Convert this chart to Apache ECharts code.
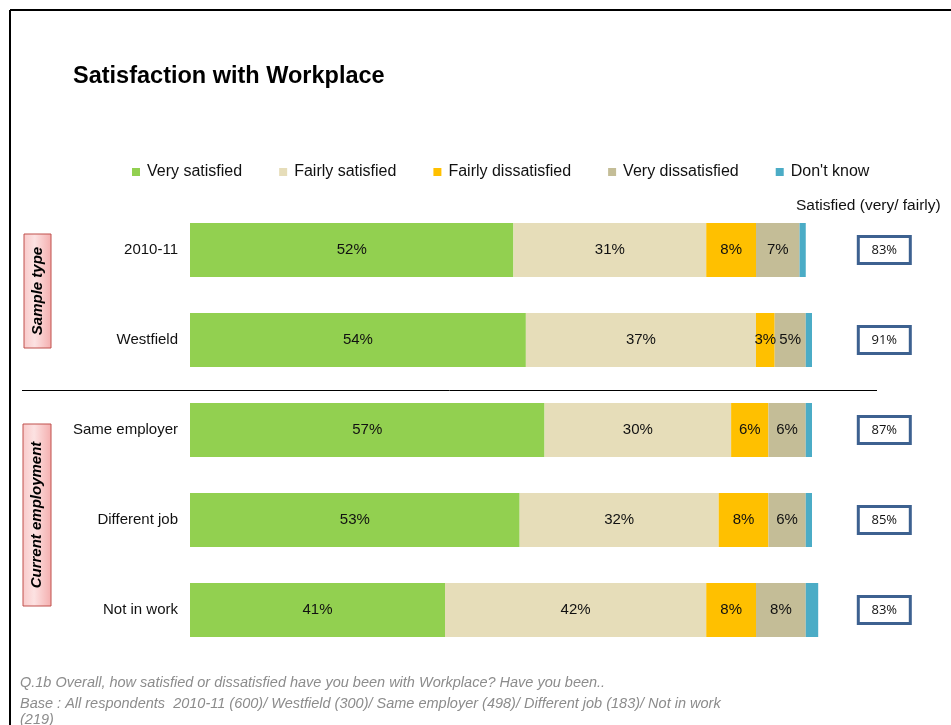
<!DOCTYPE html>
<html>
<head>
<meta charset="utf-8">
<script src="https://cdn.jsdelivr.net/npm/echarts@6/dist/echarts.min.js"></script>
<style>
  html, body { margin: 0; padding: 0; background: #fff; }
  #chart { width: 951px; height: 725px; }
</style>
</head>
<body>
<div id="chart"></div>
<script>
// Survey rows and response shares (%)
const categories = ['2010-11', 'Westfield', 'Same employer', 'Different job', 'Not in work'];
const verySatisfied = [52, 54, 57, 53, 41];
const fairlySatisfied = [31, 37, 30, 32, 42];
const fairlyDissatisfied = [8, 3, 6, 8, 8];
const veryDissatisfied = [7, 5, 6, 6, 8];
const dontKnow = [1, 1, 1, 1, 2];
// Net satisfied (very + fairly) per row
const satisfiedTotals = [83, 91, 87, 85, 83];

const seriesNames = ['Very satisfied', 'Fairly satisfied', 'Fairly dissatisfied', 'Very dissatisfied', "Don't know"];
const seriesValues = [verySatisfied, fairlySatisfied, fairlyDissatisfied, veryDissatisfied, dontKnow];
const seriesColors = ['#92D050', '#E6DDB9', '#FFC000', '#C4BD97', '#4BACC6'];

const FONT = '"Liberation Sans", Arial, sans-serif';
const NOTE_FONT = 'italic 14.5px ' + FONT;

const chart = echarts.init(document.getElementById('chart'), null, { renderer: 'canvas' });

const series = seriesNames.map((name, i) => ({
  name: name,
  type: 'bar',
  stack: 'total',
  barWidth: 54,
  data: seriesValues[i],
  itemStyle: { color: seriesColors[i] },
  label: {
    show: i < 4,
    position: 'inside',
    formatter: '{c}%',
    color: '#111',
    fontSize: 15,
    fontFamily: FONT
  },
  emphasis: { disabled: true }
}));

function groupTag(x, y, w, h, text) {
  return {
    type: 'group',
    children: [
      {
        type: 'rect',
        shape: { x: x, y: y, width: w, height: h },
        style: {
          fill: new echarts.graphic.LinearGradient(0, 0, 1, 0, [
            { offset: 0, color: '#F9C9C9' },
            { offset: 0.4, color: '#FCE2E2' },
            { offset: 1, color: '#F4AEAE' }
          ]),
          stroke: '#C0504D',
          lineWidth: 1
        }
      },
      {
        type: 'text',
        x: x + w / 2,
        y: y + h / 2,
        rotation: Math.PI / 2,
        style: {
          text: text,
          fill: '#000',
          font: 'italic bold 15px ' + FONT,
          align: 'center',
          verticalAlign: 'middle'
        }
      }
    ]
  };
}

const option = {
  backgroundColor: '#fff',
  animation: false,
  title: {
    text: 'Satisfaction with Workplace',
    left: 73,
    top: 65,
    padding: 0,
    textStyle: { fontFamily: FONT, fontSize: 23.5, fontWeight: 'bold', color: '#000' }
  },
  legend: {
    data: seriesNames,
    left: 132,
    top: 164,
    itemWidth: 8,
    itemHeight: 8,
    itemGap: 37,
    icon: 'rect',
    padding: 0,
    textStyle: { fontFamily: FONT, fontSize: 16, color: '#111', padding: [0, 0, 0, 2] },
    selectedMode: false
  },
  grid: { left: 190, top: 205, width: 659.3, height: 450, containLabel: false },
  xAxis: {
    type: 'value',
    min: 0,
    max: 106,
    show: false
  },
  yAxis: [
    {
      type: 'category',
      data: categories,
      inverse: true,
      axisLine: { show: false },
      axisTick: { show: false },
      axisLabel: { margin: 12, fontSize: 15, fontFamily: FONT, color: '#111' }
    },
    {
      type: 'category',
      position: 'right',
      data: satisfiedTotals.map(v => v + '%'),
      inverse: true,
      axisLine: { show: false },
      axisTick: { show: false },
      axisLabel: {
        margin: 35,
        align: 'center',
        width: 49,
        height: 22,
        lineHeight: 22,
        fontSize: 13,
        fontFamily: '"Open Sans", "Noto Sans", sans-serif',
        color: '#111',
        backgroundColor: '#fff',
        borderColor: '#3D6190',
        borderWidth: 3,
        padding: [2, 0, 0, 0]
      }
    }
  ],
  series: series,
  graphic: [
    // Frame lines
    { type: 'line', shape: { x1: 10, y1: 10, x2: 951, y2: 10 }, style: { stroke: '#000', lineWidth: 2 } },
    { type: 'line', shape: { x1: 10, y1: 10, x2: 10, y2: 725 }, style: { stroke: '#000', lineWidth: 2 } },
    // Divider between groups
    { type: 'line', shape: { x1: 22, y1: 390.5, x2: 877, y2: 390.5 }, style: { stroke: '#000', lineWidth: 1 } },
    {
      type: 'text', x: 796, y: 206,
      style: { text: 'Satisfied (very/ fairly)', font: '15.5px ' + FONT, fill: '#111', verticalAlign: 'middle' }
    },
    groupTag(24, 234, 27, 114, 'Sample type'),
    groupTag(23, 424, 28, 182, 'Current employment'),
    {
      type: 'text', x: 20, y: 683,
      style: {
        text: 'Q.1b Overall, how satisfied or dissatisfied have you been with Workplace? Have you been..',
        font: NOTE_FONT, fill: '#8C8C8C', verticalAlign: 'middle'
      }
    },
    {
      type: 'text', x: 20, y: 704,
      style: {
        text: 'Base : All respondents  2010-11 (600)/ Westfield (300)/ Same employer (498)/ Different job (183)/ Not in work',
        font: NOTE_FONT, fill: '#8C8C8C', verticalAlign: 'middle'
      }
    },
    {
      type: 'text', x: 20, y: 720,
      style: {
        text: '(219)',
        font: NOTE_FONT, fill: '#8C8C8C', verticalAlign: 'middle'
      }
    }
  ]
};

chart.setOption(option);
</script>
</body>
</html>
